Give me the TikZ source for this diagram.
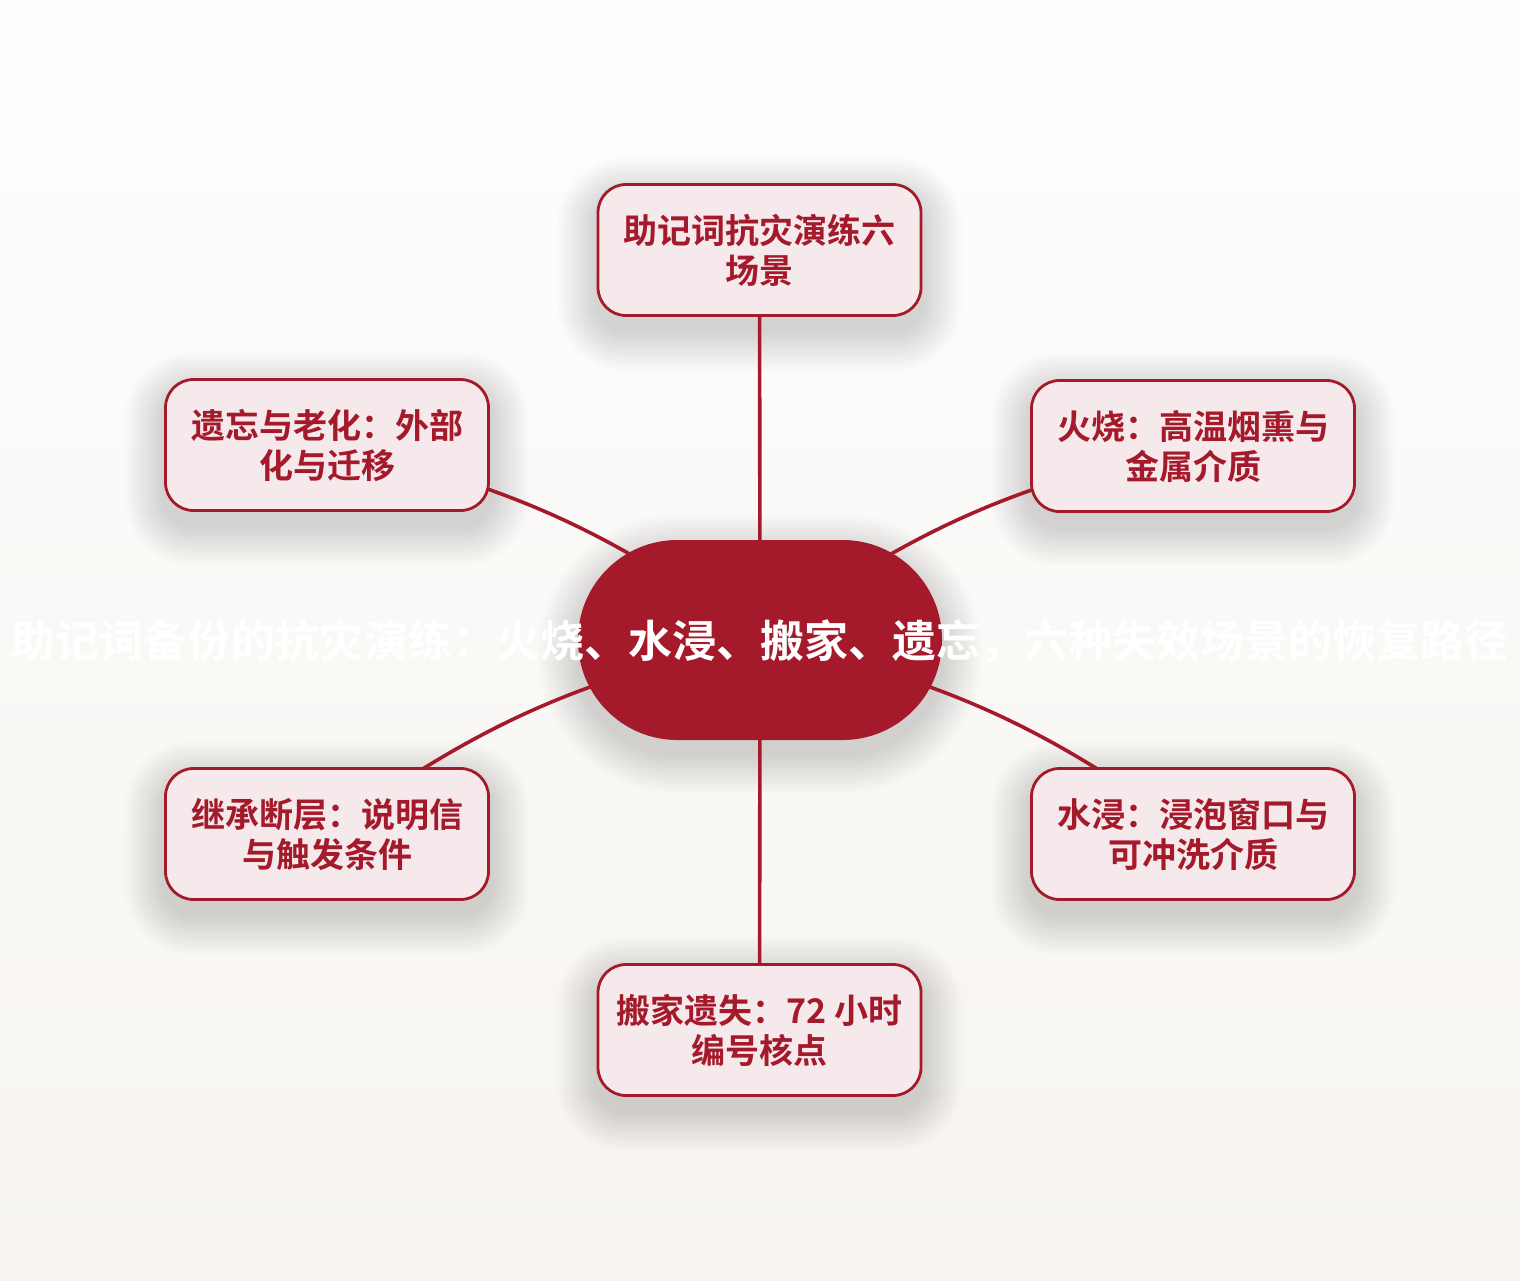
\documentclass[tikz,border=0pt]{standalone}
\usepackage{fontspec}
\newfontfamily\cjk{Noto Sans CJK SC}[BoldFont={Noto Sans CJK SC Bold}]
\usetikzlibrary{calc}
\definecolor{dred}{HTML}{A51A2B}
\definecolor{pinkfill}{HTML}{F5E9EC}
\definecolor{bgtop}{HTML}{FEFEFE}
\definecolor{bgbot}{HTML}{F7F4EF}
\pgfdeclarelayer{bg}
\pgfdeclarelayer{shad}
\pgfdeclarelayer{edges}
\pgfsetlayers{bg,shad,edges,main}
\tikzset{
  sat/.style={draw=dred, line width=2.8pt, fill=pinkfill, rounded corners=28pt,
    minimum width=323pt, minimum height=131pt, align=center, text=dred,
    font=\cjk\bfseries\fontsize{34}{40}\selectfont, inner sep=0pt},
  hub/.style={fill=dred, minimum width=364pt, minimum height=200pt,
    rounded corners=99.5pt, inner sep=0pt},
  hubtext/.style={text=white, font=\cjk\bfseries\fontsize{44}{50}\selectfont, inner sep=0pt},
  link/.style={draw=dred, line width=3.6pt},
}
\begin{document}
\begin{tikzpicture}[x=1pt,y=1pt]
\useasboundingbox (0,0) rectangle (1520,-1280);
\begin{pgfonlayer}{bg}
  \shade[top color=bgtop, bottom color=bgbot] (0,0) rectangle (1520,-1280);
\end{pgfonlayer}

\node[hub] (c) at (760,-640) {};
\node[hubtext] (ct) at (760,-642) {助记词备份的抗灾演练：火烧、水浸、搬家、遗忘，六种失效场景的恢复路径};

\node[sat] (t)  at (759.5,-250)  {助记词抗灾演练六\\场景};
\node[sat] (ur) at (1193,-446)   {火烧：高温烟熏与\\金属介质};
\node[sat] (ul) at (327,-445)    {遗忘与老化：外部\\化与迁移};
\node[sat] (ll) at (327,-834)    {继承断层：说明信\\与触发条件};
\node[sat] (lr) at (1193,-834)   {水浸：浸泡窗口与\\可冲洗介质};
\node[sat] (b)  at (759.5,-1030) {搬家遗失：72 小时\\编号核点};

\begin{pgfonlayer}{shad}
  \foreach \n/\r in {t/28,ur/28,ul/28,ll/28,lr/28,b/28,c/99.5} {
    \foreach \i in {1,...,20} {
      \pgfmathsetmacro\rr{\r+\i*2}
      \pgfmathsetmacro\dd{\i*2}
      \fill[black, opacity=0.0065, rounded corners=\rr pt]
        ($(\n.south west)+(-\dd,-14-\dd)$) rectangle ($(\n.north east)+(\dd,-14+\dd)$);
    }
  }
\end{pgfonlayer}

\begin{pgfonlayer}{edges}
  \draw[link] (c.center) -- (t.center);
  \draw[link] (c.center) to[bend left=12] (ur.center);
  \draw[link] (c.center) to[bend right=12] (ul.center);
  \draw[link] (c.center) to[bend right=12] (ll.center);
  \draw[link] (c.center) to[bend left=12] (lr.center);
  \draw[link] (c.center) -- (b.center);
\end{pgfonlayer}
\end{tikzpicture}
\end{document}
